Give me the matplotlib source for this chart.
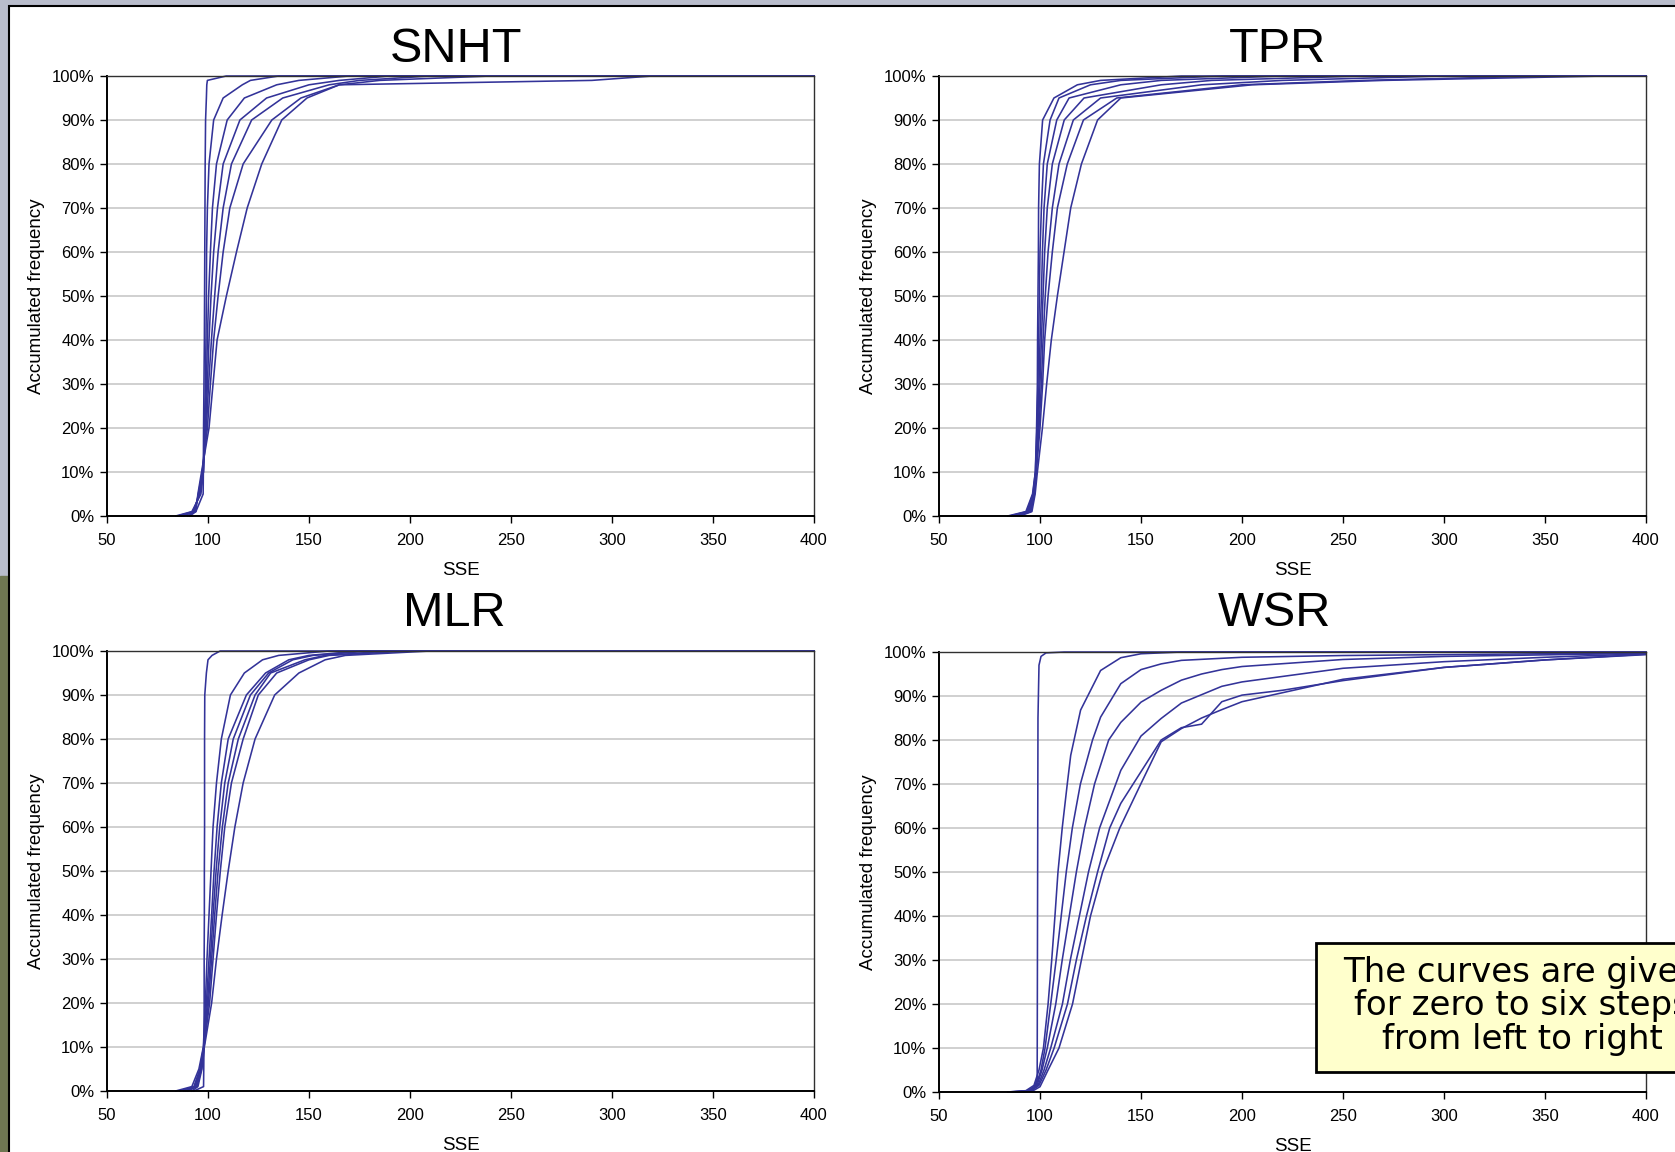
import matplotlib
matplotlib.use("Agg")
import matplotlib.pyplot as plt
from matplotlib.patches import Rectangle
from matplotlib.ticker import FuncFormatter

plt.rcParams['font.family'] = ['Liberation Sans', 'DejaVu Sans']

W, H = 1675, 1152
LINE = '#333399'

# accumulated frequency levels (%) used by SNHT, TPR and MLR curves
levels = [0, 1, 5, 10, 20, 30, 40, 50, 60, 70, 80, 90, 95, 98, 99, 100]

# SSE where each curve (zero .. six steps) reaches the level above
snht_x = [
    [86, 94, 97.6, 97.7, 97.8, 98.0, 98.2, 98.3, 98.4, 98.5, 98.6, 98.8, 99.2, 99.4, 99.7, 109],
    [84, 92, 96.5, 97.7, 98.2, 98.7, 99.0, 99.2, 99.3, 99.7, 100.5, 102.8, 107.5, 117, 121, 135],
    [85, 92.5, 96, 97.7, 98.5, 99.2, 99.7, 100.3, 101.2, 102.2, 104.2, 109.5, 118, 134, 145, 170],
    [87, 93, 95.8, 97.7, 98.8, 99.7, 100.5, 101.5, 102.8, 104.7, 107.5, 115.8, 129, 150, 165, 190],
    [88, 93, 95.5, 97.2, 99.2, 100.3, 101.7, 103.3, 105, 107.5, 111.6, 121.6, 137, 160, 175, 210],
    [90, 93.5, 95.2, 97.2, 99.7, 101.2, 102.8, 105, 107.5, 110.8, 117.4, 131.6, 146, 165, 185, 240],
    [91, 94, 95, 96.8, 100.5, 102.5, 104.5, 109.1, 114.1, 119.4, 126.6, 136.5, 149, 165, 290, 320],
]

tpr_x = [
    [84, 93, 96.3, 97.7, 98.3, 98.7, 98.8, 99.0, 99.2, 99.3, 99.7, 101.3, 106.9, 118.5, 130, 170],
    [85, 93.5, 96.5, 97.7, 98.5, 99.0, 99.3, 99.7, 100, 100.7, 101.7, 105, 109.4, 125, 140, 190],
    [86, 94, 96.7, 97.9, 98.8, 99.5, 100, 100.7, 101.2, 102, 103.6, 108.3, 114.4, 140, 160, 220],
    [87, 94.5, 96.9, 97.9, 99.2, 100, 100.7, 101.5, 102.3, 103.6, 106.1, 112, 121.8, 160, 185, 260],
    [88, 95, 97.1, 98.0, 99.5, 100.7, 101.5, 102.6, 104, 106.1, 109.4, 116.5, 130, 180, 220, 300],
    [89, 95.5, 97.3, 98.2, 100, 101.3, 102.3, 104, 106.1, 108.6, 113.5, 121.5, 138, 200, 260, 350],
    [90, 96, 97.6, 98.7, 101.2, 103.3, 105.6, 108.6, 111.9, 115.2, 120.5, 128.5, 140, 205, 270, 380],
]

mlr_x = [
    [93, 97.8, 97.9, 98.0, 98.1, 98.1, 98.2, 98.2, 98.3, 98.3, 98.3, 98.4, 99.2, 100, 102, 106],
    [84, 92, 95.5, 97.7, 98.7, 99.5, 100.5, 101.5, 102.5, 104.2, 106.6, 111.1, 118, 127, 135, 160],
    [86, 93, 96, 97.8, 99.2, 100.5, 101.8, 103, 104.5, 106.6, 110, 119, 128.5, 140, 150, 175],
    [88, 93.5, 96.3, 97.9, 99.7, 101.2, 102.5, 104, 105.8, 108.3, 112.5, 121, 130, 142, 152, 180],
    [89, 94, 96.5, 98, 100.2, 101.8, 103.3, 105, 107.1, 110, 115, 123.3, 131, 148, 158, 190],
    [90, 94.5, 96.8, 98, 100.8, 102.5, 104.2, 106.1, 108.3, 111.6, 117.4, 124.9, 134, 150, 160, 200],
    [92, 95, 97, 98.2, 101.8, 104.2, 107, 110, 113.3, 117.4, 123.3, 133, 145, 158, 168, 210],
]

# WSR curves read as (SSE, %) points
wsr_x = [
    [84, 95, 97, 98.6, 99.0, 99.5, 100.5, 103, 112, 400],
    [84, 93, 97, 99.5, 101.7, 104, 105.8, 107.4, 108.9, 111, 113.5, 115.2, 120.1, 130, 140, 150, 170, 400],
    [86, 94, 98, 100.5, 102.5, 105.3, 108, 110.5, 113, 116, 120, 126, 130, 140, 150, 160, 170, 200, 250, 400],
    [88, 95, 98.5, 101, 103.6, 107.8, 111, 114.5, 118, 122, 127, 134, 140, 150, 160, 170, 180, 190, 200, 250, 300, 400],
    [89, 96, 99, 102, 105.3, 111.1, 115, 119.5, 124, 129.5, 140, 150, 160, 170, 190, 200, 250, 300, 350, 400],
    [90, 96, 99.5, 103, 107, 113.6, 118, 123, 128.5, 134.5, 140, 150, 160, 170, 180, 190, 200, 220, 250, 300, 350, 400],
    [92, 97, 100, 104, 109.4, 116.1, 120.5, 125, 131, 139.5, 150, 160, 170, 180, 190, 200, 250, 300, 350, 400],
]
wsr_y = [
    [0, 0.3, 0.8, 3, 85, 97, 99, 99.8, 100, 100],
    [0, 0.3, 1.5, 5, 10, 20, 30, 40, 50, 60, 70, 76.5, 86.8, 95.8, 98.7, 99.6, 100, 100],
    [0, 0.3, 1.5, 5, 10, 20, 30, 40, 50, 60, 70, 80, 85.2, 92.8, 96, 97.3, 98.1, 98.8, 99.2, 99.8],
    [0, 0.3, 1.5, 5, 10, 20, 30, 40, 50, 60, 70, 80, 84, 88.6, 91.3, 93.6, 95, 96, 96.7, 98.3, 99, 99.7],
    [0, 0.4, 1.5, 5, 10, 20, 30, 40, 50, 60, 73.1, 80.9, 84.9, 88.4, 92.2, 93.2, 96.3, 97.8, 98.8, 99.6],
    [0, 0.4, 1.5, 5, 10, 20, 30, 40, 50, 60, 65.6, 72.8, 80, 82.8, 83.6, 88.7, 90.2, 91.3, 93.5, 96.5, 98.2, 99.4],
    [0, 0.4, 1.2, 5, 10, 20, 30, 40, 50, 60, 70.1, 79.6, 82.6, 85, 86.9, 88.7, 93.8, 96.5, 98.2, 99.5],
]

x_ticks = [50, 100, 150, 200, 250, 300, 350, 400]
y_ticks = [0, 10, 20, 30, 40, 50, 60, 70, 80, 90, 100]
note = "The curves are given\nfor zero to six steps\nfrom left to right"


def px_axes(fig, left, top, width=707, height=440):
    return fig.add_axes([left / W, 1 - (top + height) / H, width / W, height / H])


def setup(ax):
    ax.set_xlim(50, 400)
    ax.set_ylim(0, 100)
    ax.set_xticks(x_ticks)
    ax.set_yticks(y_ticks)
    ax.yaxis.set_major_formatter(FuncFormatter(lambda v, p: f"{v:.0f}%"))
    ax.grid(axis='y', color='#c8c8c8', lw=1.2)
    ax.set_axisbelow(True)
    ax.tick_params(direction='out', length=5, width=1, labelsize=12,
                   colors='black', pad=4)
    ax.tick_params(axis='x', pad=7)
    for s in ['left', 'bottom']:
        ax.spines[s].set_linewidth(1.4)
        ax.spines[s].set_color('black')
    for s in ['top', 'right']:
        ax.spines[s].set_linewidth(1.0)
        ax.spines[s].set_color('#303030')
    ax.set_xlabel('SSE', fontsize=13.5)
    ax.set_ylabel('Accumulated frequency', fontsize=13.5)
    ax.xaxis.set_label_coords(0.5, -0.105)
    ax.yaxis.set_label_coords(-0.087, 0.5)


def plot_levels(ax, curves):
    for xs in curves:
        ax.plot(xs + [400], levels + [100], color=LINE, lw=1.15, clip_on=False)


fig = plt.figure(figsize=(W / 100, H / 100), dpi=100, facecolor='#b9bdcc')

# slide background strips and frame
fig.patches.append(Rectangle((0, 0), 9 / W, 0.5, transform=fig.transFigure,
                             color='#6f7752', zorder=-3))
fig.patches.append(Rectangle((9 / W, -0.01), 1.01, 1 - 6 / H + 0.01,
                             transform=fig.transFigure, facecolor='white',
                             edgecolor='black', lw=1.5, zorder=-2))

ax1 = px_axes(fig, 107, 76)
ax2 = px_axes(fig, 939, 76)
ax3 = px_axes(fig, 107, 651)
ax4 = px_axes(fig, 939, 652)
for ax in [ax1, ax2, ax3, ax4]:
    setup(ax)

plot_levels(ax1, snht_x)
plot_levels(ax2, tpr_x)
plot_levels(ax3, mlr_x)
for xs, ys in zip(wsr_x, wsr_y):
    ax4.plot(xs, ys, color=LINE, lw=1.15, clip_on=False)

for name, x, y in [('SNHT', 456, 49), ('TPR', 1277, 49), ('MLR', 454, 613), ('WSR', 1274, 613)]:
    fig.text(x / W, 1 - y / H, name, ha='center', va='center', fontsize=35)

# yellow callout box (cut by the slide edge, as in the slide)
fig.patches.append(Rectangle((1316 / W, 1 - 1072 / H), 0.3, 129 / H,
                             transform=fig.transFigure, facecolor='#ffffcc',
                             edgecolor='black', lw=2, zorder=5))
fig.text(1522 / W, 1 - 1006 / H, note, ha='center', va='center', fontsize=24.5,
         linespacing=1.03, family=['DejaVu Sans'], zorder=6)

fig.savefig('out.png', dpi=100, facecolor=fig.get_facecolor())
